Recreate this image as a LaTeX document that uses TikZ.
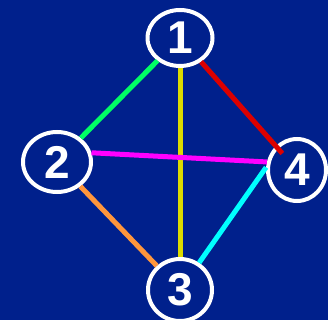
\documentclass[tikz,border=0pt]{standalone}
\usepackage{fontspec}
\setmainfont{Liberation Sans}
\usetikzlibrary{shapes.geometric}
\definecolor{bgblue}{RGB}{0,32,140}
\definecolor{egreen}{RGB}{0,255,100}
\definecolor{eyellow}{RGB}{220,220,0}
\definecolor{ered}{RGB}{220,0,0}
\definecolor{emagenta}{RGB}{255,0,255}
\definecolor{eorange}{RGB}{255,150,60}
\definecolor{ecyan}{RGB}{0,255,255}
\begin{document}
\begin{tikzpicture}[x=1pt, y=-1pt,
    vertex/.style={ellipse, draw=white, line width=4pt, fill=bgblue, text=white,
        inner sep=0pt, font=\fontsize{46}{46}\selectfont\bfseries},
    edge/.style={line width=5pt}]
    % Nền
    \useasboundingbox (0,0) rectangle (328,320);
    \fill[bgblue] (0,0) rectangle (328,320);
    
    % Các đỉnh
    \node[vertex, minimum width=65pt, minimum height=56pt] (n1) at (180,38) {1};
    \node[vertex, minimum width=68pt, minimum height=60pt] (n2) at (57,162) {2};
    \node[vertex, minimum width=64pt, minimum height=62pt] (n3) at (180,290) {3};
    \node[vertex, minimum width=58pt, minimum height=62pt] (n4) at (297,170) {4};
    
    % Các cạnh
    \draw[edge, color=egreen] (n1) -- (n2);
    \draw[edge, color=eyellow] (n1) -- (n3);
    \draw[edge, color=ered, shorten >=-10pt] (n1) -- (n4);
    \draw[edge, color=emagenta] (n2.15) -- (n4.165);
    \draw[edge, color=eorange] (n2) -- (n3);
    \draw[edge, color=ecyan] (n3) -- (n4.175);
\end{tikzpicture}
\end{document}
